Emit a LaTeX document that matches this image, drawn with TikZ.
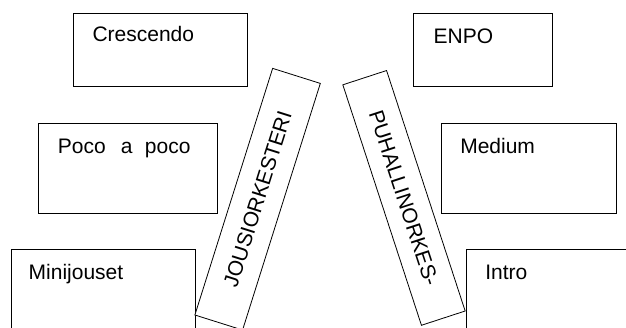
\documentclass[tikz,border=0pt]{standalone}
\usepackage{fontspec}
\setmainfont{Liberation Sans}
\begin{document}
\begin{tikzpicture}[x=1pt,y=-1pt,
  box/.style={draw=black,line width=0.8pt,inner sep=0pt,anchor=north west},
  lbl/.style={inner sep=0pt,anchor=base west,font=\fontsize{21}{25}\selectfont},
  tilted/.style={draw=black,fill=white,line width=0.8pt,inner sep=0pt,font=\fontsize{21}{25}\selectfont}]
\useasboundingbox (0,0) rectangle (626,327);
\clip (0,0) rectangle (626,327);
% left column boxes
\node[box,minimum width=174pt,minimum height=73pt] (cres) at (73,13) {};
\node[box,minimum width=179pt,minimum height=90pt] (poco) at (38,123) {};
\node[box,minimum width=184pt,minimum height=111pt] (mini) at (11,249) {};
% right column boxes
\node[box,minimum width=139pt,minimum height=73pt] (enpo) at (413,13) {};
\node[box,minimum width=175pt,minimum height=90pt] (med) at (441,123) {};
\node[box,minimum width=184pt,minimum height=111pt] (intro) at (466,249) {};
% labels
\node[lbl] (tcres) at (92.3,41.7) {Crescendo};
\node[lbl] (tpoco) at (57.7,153.3) {Poco\hspace{15pt}a\hspace{12.5pt}poco};
\node[lbl] (tmini) at (28.5,279) {Minijouset};
\node[lbl] (tenpo) at (433.4,43.3) {ENPO};
\node[lbl] (tmed) at (460.1,153.3) {Medium};
\node[lbl] (tintro) at (485.1,279.3) {Intro};
% tilted boxes
\node[tilted,minimum width=258.6pt,minimum height=50pt,rotate=72.5] (jous) at (257.6,199.2) {JOUSIORKESTERI};
\node[tilted,minimum width=253pt,minimum height=46pt,rotate=-71.9] (puh) at (404,197.9) {PUHALLINORKES-};
\end{tikzpicture}
\end{document}
